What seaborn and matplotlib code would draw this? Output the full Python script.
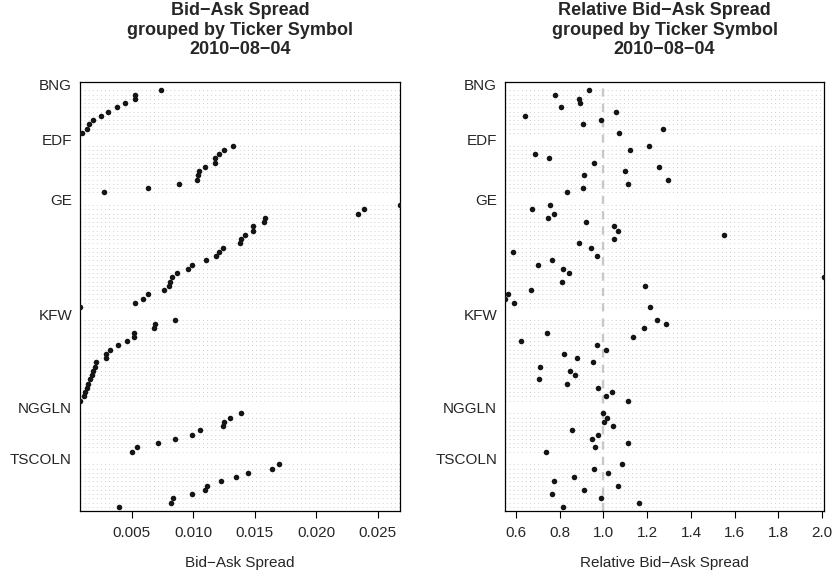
import pandas as pd
import matplotlib
matplotlib.use('Agg')
import matplotlib.pyplot as plt
import seaborn as sns

tickers = ['BNG', 'EDF', 'GE', 'KFW', 'NGGLN', 'TSCOLN']

# bid-ask spread per bond, top row of each group first
spread_bng = [0.00736, 0.00528, 0.00528, 0.00443, 0.00378, 0.00308, 0.00245, 0.0018, 0.0015, 0.00131, 0.00098]
spread_edf = [0.01321, 0.01245, 0.0121, 0.01177, 0.01172, 0.01093, 0.01044, 0.01038, 0.01027, 0.00886, 0.00628, 0.00277]
spread_ge = [0.0268, 0.02387, 0.02338, 0.01584, 0.01571, 0.01481, 0.01481, 0.01421, 0.01386, 0.0138, 0.0124, 0.01212,
             0.01185, 0.01103, 0.00989, 0.00954, 0.00864, 0.00826, 0.0081, 0.00799, 0.00761, 0.00634, 0.0059, 0.00524, 0.00078]
spread_kfw = [0.00848, 0.00688, 0.00677, 0.00516, 0.00516, 0.00457, 0.00389, 0.00318, 0.00288, 0.00288, 0.00212, 0.00202,
              0.00185, 0.00174, 0.00158, 0.00141, 0.00131, 0.0012, 0.00109, 0.00078]
spread_nggln = [0.01386, 0.01296, 0.0125, 0.01237, 0.01054, 0.00992, 0.00848, 0.00712, 0.00541, 0.00503]
spread_tscoln = [0.01698, 0.01636, 0.01441, 0.01345, 0.01223, 0.01109, 0.01095, 0.00992, 0.00834, 0.00815, 0.00394]

# relative bid-ask spread, same rows
rel_bng = [0.936, 0.780, 0.888, 0.895, 0.805, 1.058, 0.640, 0.988, 0.905, 1.273, 1.072]
rel_edf = [1.206, 1.121, 0.685, 0.752, 0.958, 1.256, 1.099, 0.909, 1.294, 1.110, 0.905, 0.833]
rel_ge = [0.755, 0.673, 0.774, 0.745, 0.920, 1.049, 1.066, 1.553, 1.049, 0.888, 0.944, 0.586, 0.971,
          0.764, 0.699, 0.816, 0.843, 2.008, 0.811, 1.192, 0.670, 0.563, 0.550, 0.592, 1.211]
rel_kfw = [1.245, 1.288, 1.186, 0.740, 1.133, 0.624, 0.971, 1.012, 0.821, 0.880, 0.952, 0.708, 0.848,
           0.869, 0.706, 0.832, 0.976, 1.038, 1.010, 1.111]
rel_nggln = [0.996, 1.014, 1.002, 1.044, 0.857, 0.973, 0.947, 1.110, 0.961, 0.736]
rel_tscoln = [1.085, 0.958, 1.020, 0.866, 0.772, 1.066, 0.912, 0.764, 0.987, 1.163, 0.815]

spreads = [spread_bng, spread_edf, spread_ge, spread_kfw, spread_nggln, spread_tscoln]
rels = [rel_bng, rel_edf, rel_ge, rel_kfw, rel_nggln, rel_tscoln]

# dotchart-style rows: group label row, its items, then one blank row
n_total = sum(len(s) for s in spreads)
cur = n_total + 2 * (len(tickers) - 1) + 1
ymax = cur + 1
records = []
label_rows = []
for t, s, r in zip(tickers, spreads, rels):
    label_rows.append(cur)
    for i in range(len(s)):
        records.append({'ticker': t, 'row': cur - 1 - i, 'spread': s[i], 'rel': r[i]})
    cur = cur - len(s) - 2
df = pd.DataFrame(records)

sns.set_theme(style='white')
plt.rcParams['font.family'] = ['Liberation Sans', 'DejaVu Sans']

fig = plt.figure(figsize=(8.35, 5.72), dpi=100)
ax1 = fig.add_axes([80 / 835, 1 - 511 / 572, 320 / 835, 429 / 572])
ax2 = fig.add_axes([505 / 835, 1 - 511 / 572, 319 / 835, 429 / 572])

panels = [
    (ax1, 'spread', 'Bid\u2212Ask Spread\ngrouped by Ticker Symbol\n2010\u221208\u221204', 'Bid\u2212Ask Spread',
     [0.005, 0.010, 0.015, 0.020, 0.025], ['0.005', '0.010', '0.015', '0.020', '0.025']),
    (ax2, 'rel', 'Relative Bid\u2212Ask Spread\ngrouped by Ticker Symbol\n2010\u221208\u221204', 'Relative Bid\u2212Ask Spread',
     [0.6, 0.8, 1.0, 1.2, 1.4, 1.6, 1.8, 2.0], ['0.6', '0.8', '1.0', '1.2', '1.4', '1.6', '1.8', '2.0']),
]

for ax, col, title, xlabel, ticks, ticklabels in panels:
    lo, hi = df[col].min(), df[col].max()
    ax.hlines(df['row'], lo, hi, colors='#cfcfcf', linewidth=0.7, linestyles=(0, (1, 3.2)), zorder=1)
    if col == 'rel':
        ax.axvline(1.0, color='#c8c8c8', linewidth=1.7, linestyle=(0, (3.5, 3.0)), zorder=2)
    sns.scatterplot(data=df, x=col, y='row', ax=ax, color='#141414', s=16, linewidth=0, zorder=3, legend=False)
    ax.set_xlim(lo, hi)
    ax.set_ylim(0, ymax)
    ax.set_yticks([])
    ax.set_ylabel('')
    ax.set_xticks(ticks)
    ax.set_xticklabels(ticklabels)
    ax.tick_params(axis='x', direction='out', length=5, width=0.8, color='black', labelsize=11, pad=6,
                   bottom=True)
    ax.set_xlabel(xlabel, fontsize=11, labelpad=11)
    ax.set_title(title, fontsize=13, fontweight='bold', linespacing=1.2, pad=20)
    for sp in ax.spines.values():
        sp.set_color('black')
        sp.set_linewidth(0.9)
    for t, lr in zip(tickers, label_rows):
        ax.text(-0.025, lr, t, transform=ax.get_yaxis_transform(), ha='right', va='center', fontsize=11)

fig.savefig('out.png', dpi=100)
